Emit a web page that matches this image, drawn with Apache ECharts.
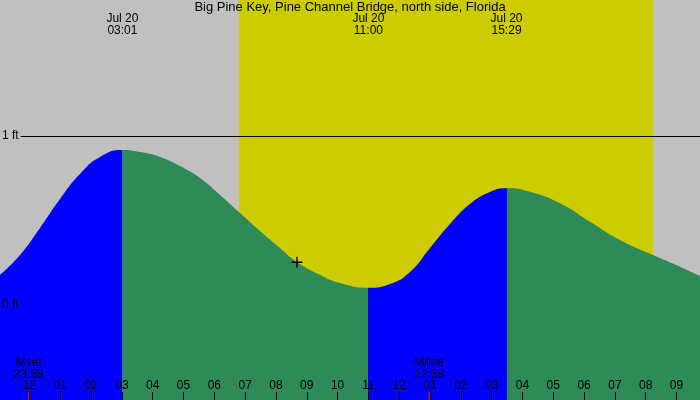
<!DOCTYPE html>
<html>
<head>
<meta charset="utf-8">
<script src="https://cdn.jsdelivr.net/npm/echarts@6/dist/echarts.min.js"></script>
<style>
  html, body { margin: 0; padding: 0; }
  #chart { width: 700px; height: 400px; }
</style>
</head>
<body>
<div id="chart"></div>
<script>
// hours from midnight, Jul 20 (negative = Jul 19)
const tideHours = [-0.957, -0.308, 0.341, 0.990, 1.639, 2.288, 3.017, 3.587, 4.236, 4.885, 5.534, 6.183, 6.832, 7.481, 8.130, 8.682, 9.429, 10.078, 11.0, 11.701, 12.350, 12.999, 13.648, 14.297, 14.946, 15.483, 16.244, 17.218, 18.192, 19.166, 20.237, 21.113, 21.762]
const tideFeet = [0.178, 0.296, 0.456, 0.627, 0.775, 0.876, 0.917, 0.905, 0.876, 0.822, 0.751, 0.651, 0.544, 0.438, 0.337, 0.254, 0.178, 0.130, 0.102, 0.124, 0.195, 0.337, 0.479, 0.598, 0.669, 0.691, 0.670, 0.602, 0.493, 0.385, 0.296, 0.227, 0.172]

// high / low tide times
const extremeHours = [3.017, 11.0, 15.483]
const extremeLabels = ['Jul 20\n03:01', 'Jul 20\n11:00', 'Jul 20\n15:29']
// rising (blue) / falling (green) phases, split at the extremes
const phaseColors = ['#0000ff', '#2e8b57', '#0000ff', '#2e8b57']

const sunrise = 6.80
const sunset = 20.237

const moonHours = [-0.033, 12.967]
const moonLabels = ['Mset\n23:58', 'Mrise\n12:58']

const hourTicks = [0, 1, 2, 3, 4, 5, 6, 7, 8, 9, 10, 11, 12, 13, 14, 15, 16, 17, 18, 19, 20, 21]
const hourLabels = ['12', '01', '02', '03', '04', '05', '06', '07', '08', '09', '10', '11', '12', '01', '02', '03', '04', '05', '06', '07', '08', '09']

const nowPoint = [8.682, 0.253]
const datumFeet = [0, 1]

const X_MIN = -0.957
const X_MAX = 21.762

const chart = echarts.init(document.getElementById('chart'))

const pieces = phaseColors.map((c, i) => {
  const p = { color: c }
  if (i > 0) p.gte = extremeHours[i - 1]
  if (i < extremeHours.length) p.lt = extremeHours[i]
  return p
})

const baseX = {
  type: 'value',
  min: X_MIN,
  max: X_MAX,
  splitLine: { show: false },
  axisLine: { show: false, onZero: false },
  z: 5,
}

const option = {
  backgroundColor: '#c0c0c0',
  animation: false,
  textStyle: { fontFamily: 'Liberation Sans', color: '#000' },
  title: {
    text: 'Big Pine Key, Pine Channel Bridge, north side, Florida',
    left: 'center',
    top: 1,
    padding: 0,
    textStyle: { fontSize: 13, fontWeight: 'normal', color: '#000', fontFamily: 'Liberation Sans' },
  },
  grid: { left: 0, right: 0, top: 0, bottom: 0, outerBoundsMode: 'none' },
  xAxis: [
    {
      ...baseX,
      position: 'bottom',
      axisTick: { show: true, inside: true, length: 8, customValues: hourTicks, lineStyle: { color: '#000' } },
      axisLabel: {
        show: true, inside: true, margin: 8, fontSize: 12, color: '#000', hideOverlap: false,
        customValues: hourTicks,
        formatter: (v) => hourLabels[hourTicks.indexOf(Math.round(v))],
      },
    },
    {
      ...baseX,
      position: 'top',
      axisTick: { show: false },
      axisLabel: {
        show: true, inside: true, margin: 13, fontSize: 12, lineHeight: 12, color: '#000', hideOverlap: false,
        customValues: extremeHours,
        formatter: (v) => extremeLabels[extremeHours.indexOf(v)],
      },
    },
    {
      ...baseX,
      position: 'bottom',
      axisTick: { show: true, inside: true, length: 8, customValues: moonHours, lineStyle: { color: '#ff0000' } },
      axisLabel: {
        show: true, inside: true, margin: 19, fontSize: 12, lineHeight: 12, color: '#000', hideOverlap: false,
        customValues: moonHours,
        formatter: (v) => moonLabels[moonHours.indexOf(v)],
      },
    },
  ],
  yAxis: {
    type: 'value',
    min: -0.562,
    max: 1.805,
    z: 5,
    splitLine: { show: false },
    axisLine: { show: false, onZero: false },
    axisTick: { show: false },
    axisLabel: {
      inside: true, margin: 0, fontSize: 12, color: '#000',
      customValues: datumFeet,
      formatter: (v) => (v === 1 ? '{g|1 ft}' : '{n|0 ft}'),
      rich: {
        g: { backgroundColor: '#c0c0c0', padding: [1, 2, 1, 2], fontSize: 12, color: '#000' },
        n: { padding: [1, 2, 1, 2], fontSize: 12, color: '#000' },
      },
    },
  },
  visualMap: {
    type: 'piecewise',
    show: false,
    dimension: 0,
    seriesIndex: 0,
    pieces: pieces,
  },
  series: [
    {
      type: 'line',
      data: tideHours.map((h, i) => [h, tideFeet[i]]),
      smooth: 0.5,
      showSymbol: false,
      lineStyle: { width: 0 },
      areaStyle: { origin: 'start', opacity: 1 },
      markArea: {
        silent: true,
        itemStyle: { color: '#cccc00' },
        data: [[{ xAxis: sunrise }, { xAxis: sunset }]],
      },
      markLine: {
        silent: true,
        symbol: 'none',
        label: { show: false },
        lineStyle: { color: '#000', type: 'solid', width: 1 },
        data: [{ yAxis: 1 }],
      },
    },
    {
      type: 'scatter',
      data: [nowPoint],
      symbol: 'path://M4.4,0h1.2v10h-1.2zM0,4.4h10v1.2h-10z',
      symbolSize: 11,
      itemStyle: { color: '#000', opacity: 1 },
      silent: true,
      z: 4,
    },
  ],
}

chart.setOption(option)
</script>
</body>
</html>
